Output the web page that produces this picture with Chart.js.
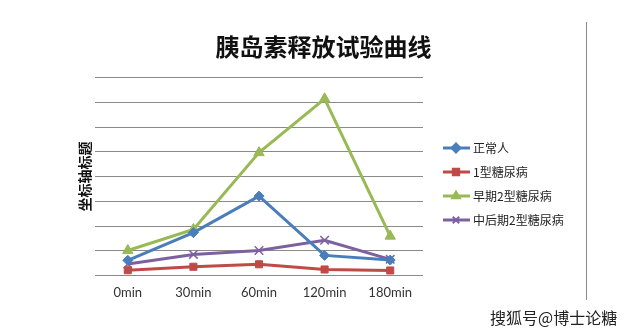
<!DOCTYPE html>
<html>
<head>
<meta charset="utf-8">
<script src="https://cdn.jsdelivr.net/npm/chart.js@4/dist/chart.umd.min.js"></script>
<style>
  html, body { margin: 0; padding: 0; background: #fff; }
  #wrap { position: relative; width: 629px; height: 332px; }
  #watermark {
    position: absolute; left: 490px; top: 305px;
    font-family: "Noto Sans CJK SC", sans-serif; font-size: 16px; color: #222;
    text-shadow: 0 0 2px #fff, 0 0 2px #fff;
  }
</style>
</head>
<body>
<div id="wrap">
  <canvas id="grafico" width="629" height="332"></canvas>
  <span id="watermark">搜狐号@博士论糖</span>
</div>
<script>
const tiempos = ['0min', '30min', '60min', '120min', '180min'];
const normal = [6.1, 17.3, 32.1, 8.1, 6.2];
const tipo1 = [2.1, 3.5, 4.5, 2.4, 2.0];
const tipo2Temprano = [10.1, 18.6, 49.7, 71.5, 15.9];
const tipo2Tardio = [4.6, 8.5, 10.1, 14.2, 6.5];

const series = [
    { label: '正常人', data: normal, color: '#4a7ebb', estilo: 'rectRot', radio: 5 },
    { label: '1型糖尿病', data: tipo1, color: '#be4b48', estilo: 'rect', radio: 5 },
    { label: '早期2型糖尿病', data: tipo2Temprano, color: '#98b954', estilo: 'triangle', radio: 6 },
    { label: '中后期2型糖尿病', data: tipo2Tardio, color: '#7d60a0', estilo: 'crossRot', radio: 6 }
];

// leyenda a la derecha con linea + marcador, como en Excel
const leyendaExcel = {
    id: 'leyendaExcel',
    afterDraw(chart) {
        const ctx = chart.ctx;
        const x0 = chart.chartArea.right + 20;
        ctx.save();
        chart.data.datasets.forEach((ds, i) => {
            const y = 148 + i * 24;
            ctx.strokeStyle = ds.borderColor;
            ctx.lineWidth = 3;
            ctx.beginPath();
            ctx.moveTo(x0, y);
            ctx.lineTo(x0 + 27, y);
            ctx.stroke();
            ctx.fillStyle = ds.backgroundColor;
            ctx.lineWidth = 2;
            Chart.helpers.drawPoint(ctx, { pointStyle: ds.pointStyle, radius: 4.5, borderWidth: 2 }, x0 + 13, y);
            ctx.fillStyle = '#222';
            ctx.font = '12px "Noto Sans CJK SC", sans-serif';
            ctx.textBaseline = 'middle';
            ctx.fillText(ds.label, x0 + 30, y);
        });
        // borde derecho del area del grafico
        ctx.strokeStyle = '#8a8a8a';
        ctx.lineWidth = 1;
        ctx.beginPath();
        ctx.moveTo(586.5, 22);
        ctx.lineTo(586.5, 300);
        ctx.stroke();
        ctx.restore();
    }
};

new Chart(document.getElementById('grafico').getContext('2d'), {
    type: 'line',
    data: {
        labels: tiempos,
        datasets: series.map(s => ({
            label: s.label,
            data: s.data,
            borderColor: s.color,
            backgroundColor: s.color,
            borderWidth: 3,
            pointStyle: s.estilo,
            pointRadius: s.radio,
            pointBorderWidth: s.estilo === 'crossRot' ? 1.5 : 1,
            tension: 0
        }))
    },
    options: {
        responsive: false,
        animation: false,
        layout: { padding: { left: 60, right: 42, top: 0, bottom: 21 } },
        plugins: {
            legend: { display: false },
            tooltip: { enabled: false },
            title: {
                display: true,
                text: '胰岛素释放试验曲线',
                color: '#111',
                font: { family: '"Noto Sans CJK SC", sans-serif', size: 24, weight: 'bold' },
                padding: { top: 32, bottom: 17 }
            }
        },
        scales: {
            x: {
                offset: true,
                grid: { display: false, drawTicks: false },
                border: { display: false },
                ticks: { color: '#333', padding: 10, font: { family: 'Lato, sans-serif', size: 13 } }
            },
            y: {
                min: 0,
                max: 80,
                ticks: { display: false, stepSize: 10 },
                grid: { color: '#8a8a8a', drawTicks: false },
                border: { display: false },
                afterFit: s => { s.width = 35; },
                title: {
                    display: true,
                    text: '坐标轴标题',
                    color: '#111',
                    padding: { top: 16, bottom: 4 },
                    font: { family: '"Noto Sans CJK SC", sans-serif', size: 14, weight: 'bold' }
                }
            },
            // eje vacio a la derecha que reserva el sitio de la leyenda
            espacio: {
                type: 'linear',
                position: 'right',
                display: true,
                ticks: { display: false },
                grid: { display: false, drawTicks: false },
                border: { display: false },
                afterFit: s => { s.width = 164; }
            }
        }
    },
    plugins: [leyendaExcel]
});
</script>
</body>
</html>
